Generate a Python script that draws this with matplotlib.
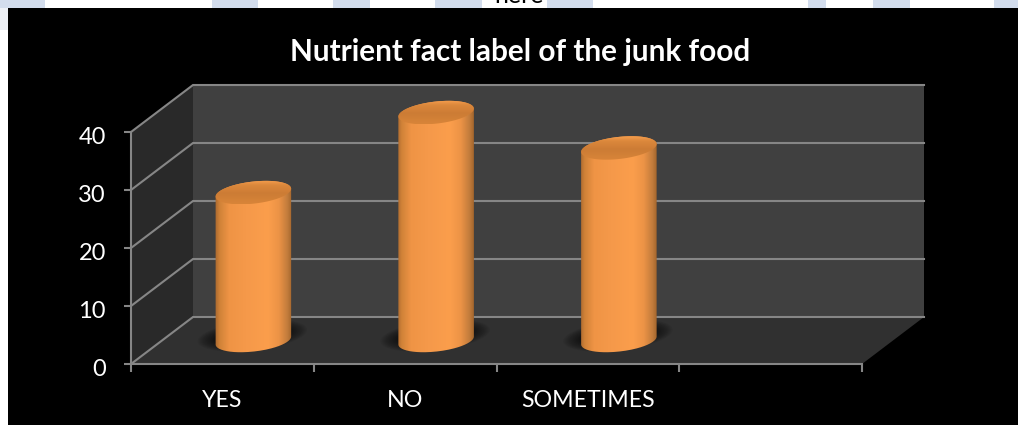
import numpy as np
import matplotlib
matplotlib.use("Agg")
import matplotlib.pyplot as plt
from matplotlib.patches import Polygon, Rectangle
from matplotlib.path import Path
from matplotlib.colors import LinearSegmentedColormap
from matplotlib.transforms import ScaledTranslation

# Survey responses
categories = ["YES", "NO", "SOMETIMES"]
values = [25.5, 39.3, 33.2]
value_ticks = [0, 10, 20, 30, 40]
title = "Nutrient fact label of the junk food"

W, H = 1018, 425
plt.rcParams["font.family"] = ["Lato", "DejaVu Sans"]
fig = plt.figure(figsize=(W / 100, H / 100), dpi=100, facecolor="white")

# Page behind the chart: white strip with pale tints, and the black panel
bg = fig.add_axes([0, 0, 1, 1], zorder=0)
bg.set_xlim(0, W)
bg.set_ylim(H, 0)
bg.axis("off")
for x0, x1 in [(0, 45), (212, 258), (333, 370), (435, 482),
               (547, 593), (808, 826), (873, 910), (994, 1018)]:
    bg.add_patch(Rectangle((x0, 0), x1 - x0, 8, fc="#d3dded", ec="none", zorder=1))
bg.add_patch(Rectangle((0, 8), 8, 22, fc="#eef1f6", ec="none", zorder=1))
bg.text(519, 3, "here", color="black", fontsize=18, ha="center", va="baseline", zorder=2)
bg.add_patch(Rectangle((8, 8), W - 8, H - 8, fc="black", ec="none", zorder=3))

# Front plane of the 3-D box: one category slot is 183 px, ten units are 58 px
PX_X, PX_Y = 731 / 4, 232 / 40
DEPTH_X, DEPTH_Y = 62, 47
ax = fig.add_axes([131 / W, (H - 364) / H, 731 / W, 232 / H], zorder=1)
ax.patch.set_alpha(0)
ax.set_xlim(0, 4)
ax.set_ylim(0, 40)


def off(x, y, dx_px=0.0, dy_px=0.0):
    """Data position shifted by a pixel offset (dy upward)."""
    return x + dx_px / PX_X, y + dy_px / PX_Y


GRID = "#868686"
back = [off(0, 0, DEPTH_X, DEPTH_Y), off(4, 0, DEPTH_X, DEPTH_Y),
        off(4, 40, DEPTH_X, DEPTH_Y), off(0, 40, DEPTH_X, DEPTH_Y)]
side = [(0, 0), off(0, 0, DEPTH_X, DEPTH_Y), off(0, 40, DEPTH_X, DEPTH_Y), (0, 40)]
floor = [(0, 0), (4, 0), off(4, 0, DEPTH_X, DEPTH_Y), off(0, 0, DEPTH_X, DEPTH_Y)]
ax.add_patch(Polygon(back, fc="#404040", ec="none", zorder=1, clip_on=False))
ax.add_patch(Polygon(side, fc="#292929", ec="none", zorder=1, clip_on=False))
ax.add_patch(Polygon(floor, fc="#303030", ec="none", zorder=1, clip_on=False))
for v in value_ticks:
    p0 = off(0, v, DEPTH_X, DEPTH_Y)
    p1 = off(4, v, DEPTH_X, DEPTH_Y)
    p2 = (0, v)
    ax.plot([p2[0], p0[0], p1[0]], [p2[1], p0[1], p1[1]], color=GRID, lw=1.5,
            zorder=2, clip_on=False, solid_joinstyle="miter")

# Axes, ticks and labels
for name in ("top", "right"):
    ax.spines[name].set_visible(False)
for name in ("left", "bottom"):
    ax.spines[name].set_color(GRID)
    ax.spines[name].set_linewidth(1.5)
    ax.spines[name].set_zorder(6)
ax.set_yticks(value_ticks)
ax.tick_params(axis="y", colors="white", labelsize=17, length=5, width=1.5,
               color=GRID, pad=13)
shift_down = ScaledTranslation(0, -2.4 / 72, fig.dpi_scale_trans)
for label in ax.get_yticklabels():
    label.set_transform(label.get_transform() + shift_down)
ax.set_xticks(range(5))
ax.set_xticklabels([])
ax.tick_params(axis="x", which="major", length=6, width=1.5, color=GRID)
ax.set_xticks(np.arange(len(categories)) + 0.5, labels=categories, minor=True)
ax.tick_params(axis="x", which="minor", length=0, colors="white", labelsize=16.7, pad=18.5)

fig.text(520 / W, 1 - 52 / H, title, color="white", fontsize=21.4, fontweight="bold",
         ha="center", va="center", zorder=5)

# Cylinders
RX, RY, TILT = 38.0, 11.0, np.radians(6.5)
BASE_DY = 23.5
body_cmap = LinearSegmentedColormap.from_list("body", [
    (0.00, "#a9682f"), (0.06, "#d08238"), (0.18, "#ef9445"), (0.40, "#f5994a"),
    (0.68, "#fb9e4c"), (0.82, "#ec9346"), (0.93, "#c27c3c"), (1.00, "#9c6029")])
cap_cmap = LinearSegmentedColormap.from_list("cap", [
    (0.00, "#d88539"), (0.45, "#cc7c35"), (0.80, "#dc883c"), (0.95, "#f09a4a"), (1.00, "#ee9647")])


def ellipse_px(t, rx=RX, ry=RY, tilt=TILT):
    ex, ey = rx * np.cos(t), ry * np.sin(t)
    return ex * np.cos(tilt) - ey * np.sin(tilt), ex * np.sin(tilt) + ey * np.cos(tilt)


for i, val in enumerate(values):
    cx = i + 0.5 + (DEPTH_X / 2) / PX_X

    # Soft contact shadow on the floor
    for k in np.linspace(1.0, 0.0, 12):
        ex, ey = ellipse_px(np.linspace(0, 2 * np.pi, 90), RX + 1 + 16 * k, RY - 2 + 6 * k)
        sx, sy = off(cx, 0, ex - 1, ey + BASE_DY + 5)
        ax.fill(sx, sy, color="black", alpha=0.055, lw=0, zorder=3, clip_on=False)

    # Body outline: far half of the top ellipse, near half of the base ellipse,
    # joined where each ellipse reaches its horizontal extremes
    start = np.arctan(-(RY / RX) * np.tan(TILT))
    t_up = np.linspace(start, start + np.pi, 80)
    t_dn = np.linspace(start + np.pi, start + 2 * np.pi, 80)
    ux, uy = ellipse_px(t_up)
    dx, dy = ellipse_px(t_dn)
    top_x, top_y = off(cx, val, ux, uy + BASE_DY)
    low_x, low_y = off(cx, 0, dx, dy + BASE_DY)
    half_w = RX / PX_X * 1.02
    im = ax.imshow(np.linspace(0, 1, 256)[None, :], cmap=body_cmap, aspect="auto",
                   extent=(cx - half_w, cx + half_w, 0, val + 8), zorder=4,
                   interpolation="bilinear")
    im.set_clip_path(Path(np.c_[np.r_[top_x, low_x], np.r_[top_y, low_y]]), ax.transData)
    im.set_clip_box(fig.bbox)

    # Top face
    t = np.linspace(0, 2 * np.pi, 120)
    ex, ey = ellipse_px(t)
    tx, ty = off(cx, val, ex, ey + BASE_DY)
    cap = ax.imshow(np.linspace(1, 0, 128)[:, None], cmap=cap_cmap, aspect="auto",
                    extent=(cx - half_w, cx + half_w, ty.min(), ty.max()), zorder=5,
                    interpolation="bilinear")
    cap.set_clip_path(Path(np.c_[tx, ty]), ax.transData)
    cap.set_clip_box(fig.bbox)

ax.set_xlim(0, 4)
ax.set_ylim(0, 40)
fig.savefig("out.png", dpi=100, facecolor="white")
